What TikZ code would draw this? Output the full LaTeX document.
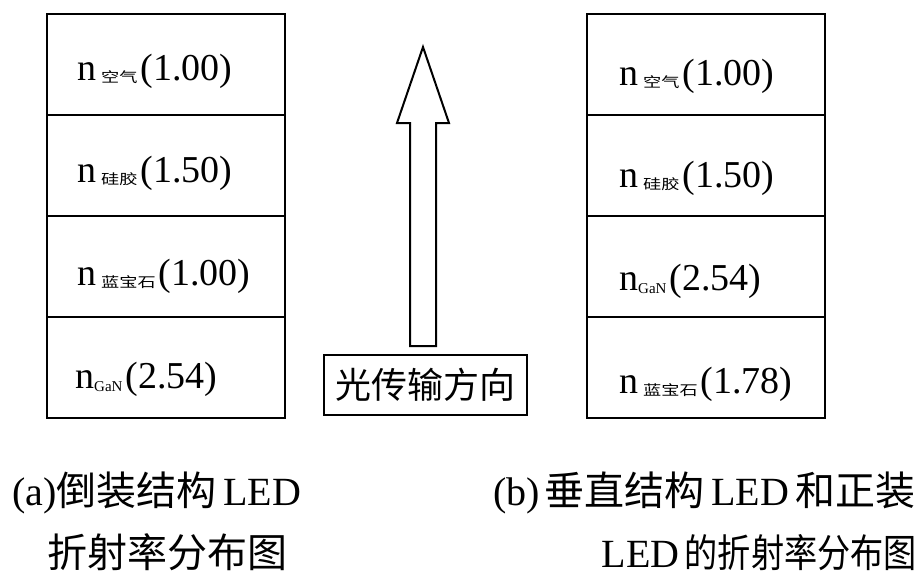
\documentclass[tikz,border=0pt]{standalone}
\usepackage{fontspec}
\setmainfont{Liberation Serif}
\newfontfamily\cjk{Noto Sans CJK SC}
\newcommand\subcn[1]{\raisebox{-2.5pt}{\scalebox{1.3}[1]{\cjk\fontsize{14}{14}\selectfont #1}}}
\newcommand\subla[1]{\raisebox{-3pt}{\fontsize{15}{15}\selectfont #1}}
\tikzset{
  layer/.style={draw=black, line width=2pt, rectangle, minimum width=238pt, minimum height=101pt, inner sep=0pt, anchor=north west},
  lbl/.style={anchor=base west, inner sep=0pt, font=\fontsize{38}{38}\selectfont},
  captext/.style={inner sep=0pt, font=\fontsize{40}{40}\selectfont},
  dirbox/.style={draw=black, line width=2pt, rectangle, minimum width=203pt, minimum height=60pt, inner sep=0pt, font=\cjk\fontsize{36}{36}\selectfont},
  bigarrow/.style={draw=black, line width=2pt, fill=white, line join=miter}
}
\begin{document}
\begin{tikzpicture}[x=1pt,y=-1pt]
\useasboundingbox (0,0) rectangle (922,576);
\fill[white] (0,0) rectangle (922,576);
% left stack
\node[layer] (a1) at (46,13) {};
\node[layer] (a2) at (46,114) {};
\node[layer] (a3) at (46,215) {};
\node[layer] (a4) at (46,316) {};
\node[lbl] (a1t) at (77,80) {n\kern5pt\subcn{空气}\kern3pt(1.00)};
\node[lbl] (a2t) at (77,182) {n\kern5pt\subcn{硅胶}\kern3pt(1.50)};
\node[lbl] (a3t) at (77,285) {n\kern5pt\subcn{蓝宝石}\kern3pt(1.00)};
\node[lbl] (a4t) at (75,388) {n\subla{GaN}\kern3pt(2.54)};
% right stack
\node[layer] (b1) at (586,13) {};
\node[layer] (b2) at (586,114) {};
\node[layer] (b3) at (586,215) {};
\node[layer] (b4) at (586,316) {};
\node[lbl] (b1t) at (619,85) {n\kern5pt\subcn{空气}\kern3pt(1.00)};
\node[lbl] (b2t) at (619,187) {n\kern5pt\subcn{硅胶}\kern3pt(1.50)};
\node[lbl] (b3t) at (619,290) {n\subla{GaN}\kern3pt(2.54)};
\node[lbl] (b4t) at (619,393) {n\kern5pt\subcn{蓝宝石}\kern3pt(1.78)};
% direction label and arrow
\node[dirbox] (dir) at (425.5,385) {光传输方向};
\coordinate (abase) at (423,346);
\draw[bigarrow] (abase) ++(-13,0) -- ++(0,-223) -- ++(-13,0) -- (423,47) -- (449,123) -- (436,123) -- (436,346) -- cycle;
% captions
\node[captext, anchor=base west] (capa1) at (12,505) {(a){\cjk 倒装结构}\,LED};
\node[captext, anchor=base west] (capa2) at (47,567) {\cjk 折射率分布图};
\node[captext, anchor=base east] (capb1) at (916,505) {(b)\kern5pt{\cjk 垂直结构}\,LED\,{\cjk 和正装}};
\node[captext, anchor=base east] (capb2) at (917,567) {LED\kern5pt\scalebox{0.85}[1]{\cjk\fontsize{39}{39}\selectfont 的折射率分布图}};
\end{tikzpicture}
\end{document}
